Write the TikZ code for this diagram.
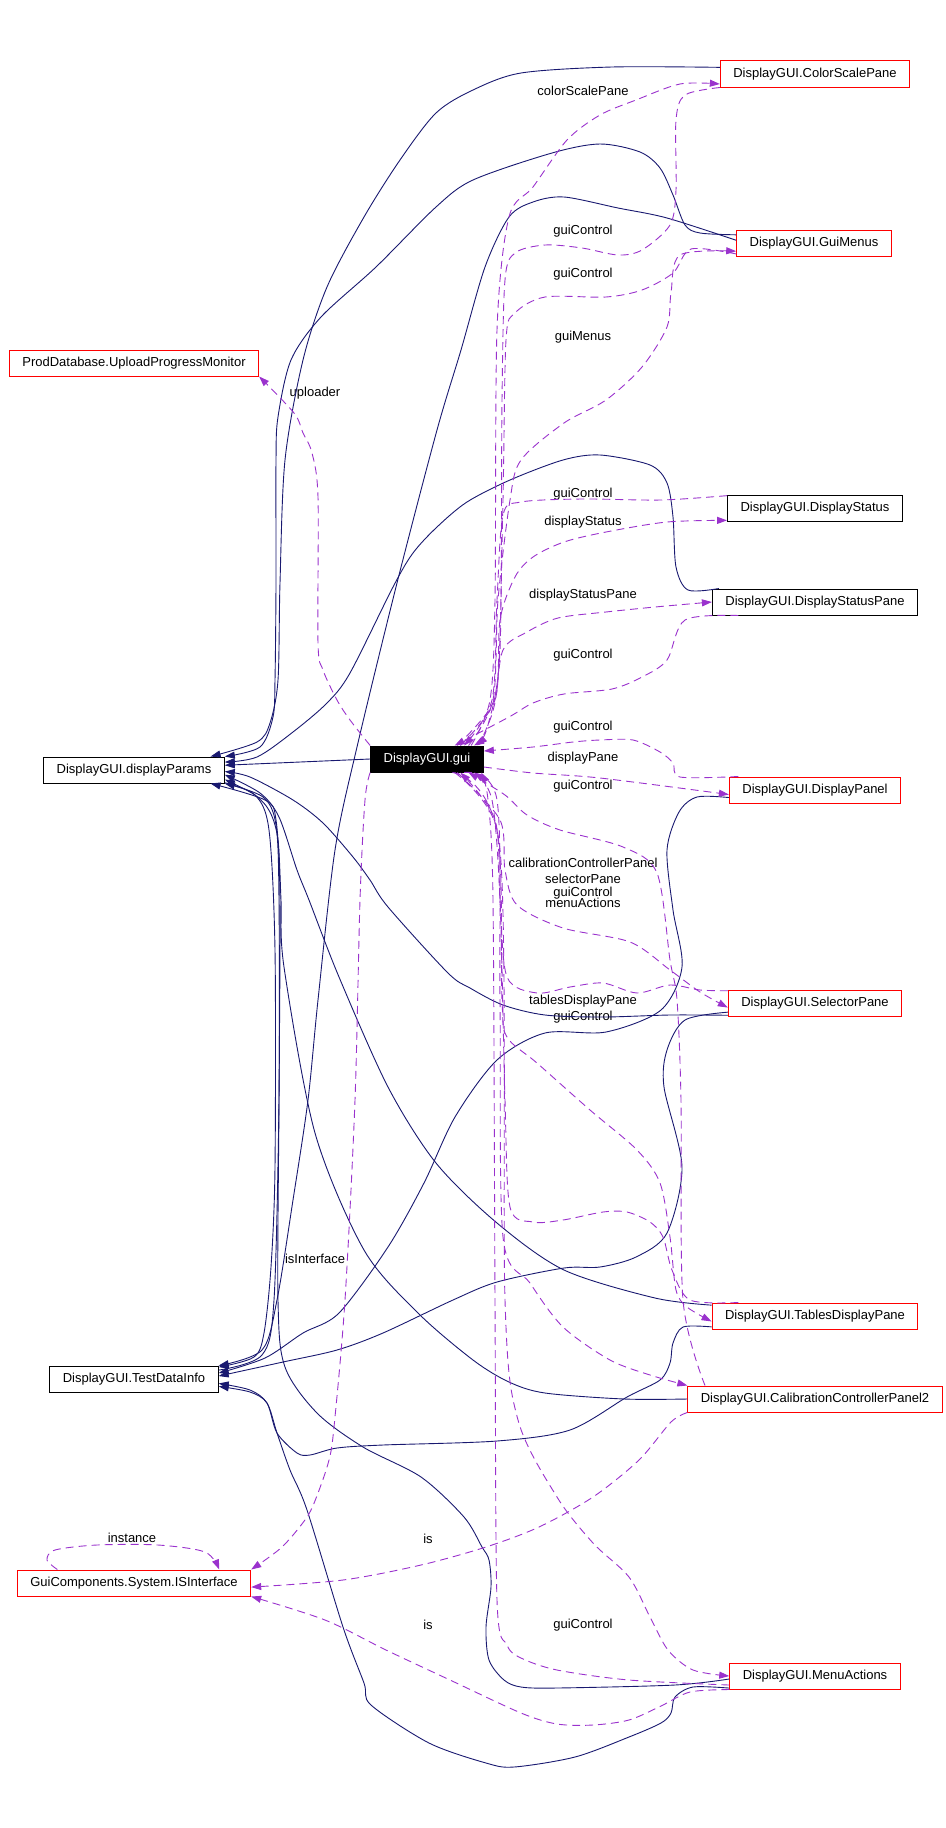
\documentclass[tikz,border=0pt]{standalone}
\usepackage{fontspec}
\setmainfont{Liberation Sans}
\usetikzlibrary{arrows.meta}
\definecolor{navy}{RGB}{25,25,112}
\definecolor{orchid}{RGB}{154,50,205}
\tikzset{
 cls/.style={draw=red,line width=1pt,fill=white,inner xsep=13pt,inner ysep=0pt,minimum height=26pt,font=\fontsize{13}{15}\selectfont},
 docbox/.style={cls,draw=black},
 curbox/.style={cls,draw=black,fill=black,text=white},
 lbl/.style={inner sep=1pt,font=\fontsize{13}{15}\selectfont},
 inh/.style={navy,line width=0.9pt,-{Triangle[length=10pt,width=7pt]}},
 usedash/.style={orchid,line width=0.9pt,dash pattern=on 8pt off 5pt,-{Triangle[length=10pt,width=7pt]}},
}
\begin{document}
\begin{tikzpicture}[x=1pt,y=-1pt]
\useasboundingbox (0,0) rectangle (945,1828);
\node[cls](cs) at (815,74){DisplayGUI.ColorScalePane};
\node[cls](gm) at (814,243){DisplayGUI.GuiMenus};
\node[cls](upm) at (134,363){ProdDatabase.UploadProgressMonitor};
\node[docbox](ds) at (815,508){DisplayGUI.DisplayStatus};
\node[docbox](dsp) at (815,602){DisplayGUI.DisplayStatusPane};
\node[docbox](dp) at (134,770){DisplayGUI.displayParams};
\node[curbox](gui) at (427,759){DisplayGUI.gui};
\node[cls](dpan) at (815,790){DisplayGUI.DisplayPanel};
\node[cls](sel) at (815,1003){DisplayGUI.SelectorPane};
\node[cls](tdp) at (815,1316){DisplayGUI.TablesDisplayPane};
\node[docbox](tdi) at (134,1379){DisplayGUI.TestDataInfo};
\node[cls](ccp) at (815,1399){DisplayGUI.CalibrationControllerPanel2};
\node[cls](isi) at (134,1583){GuiComponents.System.ISInterface};
\node[cls](ma) at (815,1676){DisplayGUI.MenuActions};

\node[lbl](l1) at (583,91){colorScalePane};
\node[lbl](l2) at (583,231){guiControl};
\node[lbl](l3) at (583,274){guiControl};
\node[lbl](l4) at (583,337){guiMenus};
\node[lbl](l5) at (315,393){uploader};
\node[lbl](l6) at (583,494){guiControl};
\node[lbl](l7) at (583,522){displayStatus};
\node[lbl](l8) at (583,595){displayStatusPane};
\node[lbl](l9) at (583,655){guiControl};
\node[lbl](l10) at (583,727){guiControl};
\node[lbl](l11) at (583,758){displayPane};
\node[lbl](l12) at (583,786){guiControl};
\node[lbl](l13) at (583,863){calibrationControllerPanel};
\node[lbl](l14) at (583,879){selectorPane};
\node[lbl](l15) at (583,893){guiControl};
\node[lbl](l16) at (583,903){menuActions};
\node[lbl](l17) at (583,1001){tablesDisplayPane};
\node[lbl](l18) at (583,1017){guiControl};
\node[lbl](l19) at (315,1259){isInterface};
\node[lbl](l20) at (132,1538){instance};
\node[lbl](l21) at (428,1539){is};
\node[lbl](l22) at (428,1625){is};
\node[lbl](l23) at (583,1625){guiControl};

\draw[inh] plot[smooth,tension=.5] coordinates{(cs.176) (612,67) (521,73) (473,90) (436,113) (400,160) (364,217) (327,287) (303,360) (285,460) (280,583) (278,680) (270,723) (257,742) (dp.10)};
\draw[inh] plot[smooth,tension=.5] coordinates{(gm.174) (700,233) (685,225) (673,195) (660,168) (640,152) (600,144) (552,153) (473,180) (436,207) (376,267) (321,317) (291,360) (278,417) (276,460) (276,583) (275,680) (273,717) (260,747) (dp.north east)};
\draw[inh] plot[smooth,tension=.5] coordinates{(dsp.172) (688,590) (676,567) (673,517) (667,483) (650,465) (600,455) (563,460) (510,480) (467,502) (437,527) (413,553) (393,587) (350,673) (327,703) (293,732) (257,757) (dp.5)};
\draw[inh](gui.west)--(dp.3);
\draw[inh] plot[smooth,tension=.5] coordinates{(sel.188) (670,1015) (603,1017) (545,1015) (503,1005) (470,988) (448,973) (388,907) (370,880) (353,857) (323,823) (293,800) (250,777) (dp.-1)};
\draw[inh] plot[smooth,tension=.5] coordinates{(tdp.174) (655,1298) (564,1270) (497,1223) (436,1163) (388,1087) (339,977) (309,900) (297,870) (279,817) (260,793) (dp.-3)};
\draw[inh] plot[smooth,tension=.5] coordinates{(ccp.180) (624,1399) (545,1393) (509,1382) (473,1360) (418,1313) (364,1250) (315,1133) (284,967) (281,900) (278,840) (270,812) (255,795) (dp.-6)};
\draw[inh] plot[smooth,tension=.5] coordinates{(ma.182) (675,1685) (557,1688) (521,1687) (504,1680) (489,1660) (486,1627) (491,1587) (489,1560) (482,1547) (464,1517) (421,1477) (363,1447) (317,1413) (285,1367) (278,1300) (279,1100) (280,900) (276,820) (265,800) (dp.-10)};
\draw[inh] plot[smooth,tension=.5] coordinates{(dp.-8) (255,795) (269,830) (275,950) (275,1167) (271,1267) (264,1333) (254,1357) (tdi.8)};
\draw[inh] plot[smooth,tension=.5] coordinates{(tdi.6) (262,1355) (274,1300) (279,1100) (279,900) (276,825) (263,797) (dp.south east)};
\draw[inh] plot[smooth,tension=.5] coordinates{(gm.178) (667,218) (618,208) (564,197) (533,202) (509,217) (485,267) (461,350) (437,430) (397,583) (357,747) (335,850) (318,1000) (308,1100) (293,1200) (277,1300) (262,1350) (tdi.north east)};
\draw[inh] plot[smooth,tension=.5] coordinates{(dpan.185) (697,797) (679,812) (667,850) (673,910) (682,967) (661,1010) (606,1032) (545,1033) (497,1060) (455,1117) (424,1183) (388,1247) (339,1313) (303,1333) (265,1358) (tdi.4)};
\draw[inh] plot[smooth,tension=.5] coordinates{(sel.186) (685,1020) (667,1050) (664,1087) (682,1167) (667,1233) (636,1257) (600,1267) (564,1268) (497,1282) (453,1300) (383,1333) (337,1350) (283,1362) (tdi.2)};
\draw[inh] plot[smooth,tension=.5] coordinates{(tdp.186) (683,1327) (673,1343) (670,1363) (660,1380) (627,1397) (570,1430) (497,1441) (383,1445) (337,1448) (310,1455) (297,1453) (277,1433) (267,1403) (250,1390) (tdi.-3)};
\draw[inh] plot[smooth,tension=.5] coordinates{(ma.188) (693,1687) (675,1697) (671,1713) (661,1723) (629,1737) (575,1757) (514,1767) (486,1763) (429,1743) (371,1705) (364,1683) (343,1627) (307,1510) (290,1470) (277,1433) (267,1403) (250,1392) (tdi.-5)};

\draw[usedash] plot[smooth,tension=.5] coordinates{(gui.17) (490,700) (495,600) (497,330) (509,217) (533,187) (567,140) (600,115) (636,100) (680,84) (cs.186)};
\draw[usedash] plot[smooth,tension=.5] coordinates{(cs.south west) (685,95) (676,120) (676,190) (670,225) (642,250) (618,255) (582,248) (545,245) (515,253) (505,280) (502,400) (500,650) (488,725) (gui.15)};
\draw[usedash] plot[smooth,tension=.5] coordinates{(gm.188) (691,249) (673,273) (642,290) (606,297) (545,297) (515,313) (506,340) (503,500) (498,680) (485,732) (gui.16)};
\draw[usedash] plot[smooth,tension=.5] coordinates{(gui.18) (493,700) (498,600) (510,500) (521,460) (564,423) (606,400) (642,367) (667,327) (671,293) (680,255) (gm.186)};
\draw[usedash] plot[smooth,tension=.5] coordinates{(ds.172) (661,500) (582,499) (521,502) (503,515) (497,600) (492,700) (gui.20)};
\draw[usedash] plot[smooth,tension=.5] coordinates{(gui.22) (495,700) (500,620) (515,577) (533,557) (564,542) (606,532) (667,522) (ds.188)};
\draw[usedash] plot[smooth,tension=.5] coordinates{(gui.24) (492,705) (503,650) (527,632) (558,618) (606,612) (655,607) (dsp.180)};
\draw[usedash] plot[smooth,tension=.5] coordinates{(dsp.190) (685,620) (667,660) (642,677) (612,689) (564,694) (533,703) (509,717) (gui.26)};
\draw[usedash] plot[smooth,tension=.5] coordinates{(dpan.170) (680,777) (673,763) (660,752) (633,740) (600,740) (573,742) (533,747) (gui.8)};
\draw[usedash] plot[smooth,tension=.5] coordinates{(gui.-8) (533,773) (600,778) (dpan.183)};
\draw[usedash] plot[smooth,tension=.5] coordinates{(gui.north west) (350,720) (337,700) (323,670) (318,643) (318,497) (312,453) (303,433) (294,413) (upm.south east)};
\draw[usedash] plot[smooth,tension=.5] coordinates{(gui.-20) (497,800) (500,1000) (503,1237) (530,1283) (563,1327) (610,1360) (650,1375) (ccp.north west)};
\draw[usedash] plot[smooth,tension=.5] coordinates{(ccp.173) (683,1300) (681,1100) (677,1000) (670,960) (657,873) (623,847) (560,830) (527,815) (505,795) (gui.-18)};
\draw[usedash] plot[smooth,tension=.5] coordinates{(sel.172) (700,990) (670,985) (637,993) (603,983) (570,987) (537,993) (507,977) (500,900) (495,820) (gui.-22)};
\draw[usedash] plot[smooth,tension=.5] coordinates{(gui.-24) (500,820) (505,870) (517,905) (563,928) (630,942) (670,970) (700,992) (sel.183)};
\draw[usedash] plot[smooth,tension=.5] coordinates{(gui.-26) (497,830) (502,1000) (507,1037) (537,1063) (590,1110) (637,1150) (660,1183) (670,1237) (676,1290) (687,1307) (tdp.183)};
\draw[usedash] plot[smooth,tension=.5] coordinates{(tdp.170) (690,1300) (672,1270) (663,1237) (650,1222) (627,1212) (603,1212) (563,1220) (533,1222) (510,1207) (505,1100) (500,900) (492,800) (gui.-16)};
\draw[usedash] plot[smooth,tension=.5] coordinates{(gui.-28) (500,850) (505,1300) (518,1420) (557,1497) (593,1543) (629,1577) (650,1617) (668,1650) (693,1670) (ma.180)};
\draw[usedash] plot[smooth,tension=.5] coordinates{(ma.186) (629,1680) (557,1670) (521,1658) (507,1645) (497,1600) (495,1300) (493,900) (488,800) (gui.-14)};
\draw[usedash] plot[smooth,tension=.5] coordinates{(gui.south west) (365,800) (360,900) (355,1100) (345,1300) (334,1427) (329,1460) (318,1493) (307,1517) (282,1547) (isi.north east)};
\draw[usedash] plot[smooth,tension=.5] coordinates{(ccp.south west) (671,1422) (639,1460) (593,1497) (539,1527) (486,1547) (421,1565) (343,1580) (isi.-2)};
\draw[usedash] plot[smooth,tension=.5] coordinates{(ma.south west) (690,1692) (661,1706) (629,1720) (593,1725) (557,1724) (521,1713) (450,1680) (386,1650) (325,1620) (isi.south east)};
\draw[usedash] plot[smooth,tension=.5] coordinates{(isi.170) (47,1560) (55,1550) (97,1545) (158,1545) (205,1552) (isi.9.5)};
\end{tikzpicture}
\end{document}
